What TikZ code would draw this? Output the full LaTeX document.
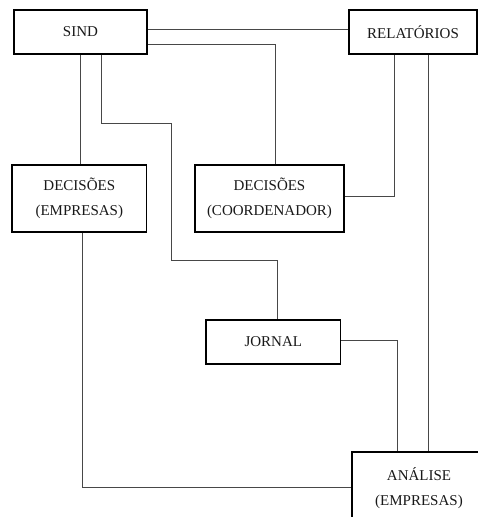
\documentclass[tikz,border=0pt]{standalone}
\usepackage{fontspec}
\setmainfont{Liberation Serif}
\begin{document}
\begin{tikzpicture}[x=1pt,y=-1pt,
  box/.style={draw=black,line width=1.6pt,fill=white,inner sep=0pt,align=center,
    font=\fontsize{15}{25}\selectfont,text=black!90},
  conn/.style={draw=black!72,line width=0.9pt}]
\useasboundingbox (0,0) rectangle (478,517);
\clip (0,0) rectangle (478,517);
\node[box,minimum width=133pt,minimum height=44pt] (sind) at (80.5,32) {SIND};
\node[box,minimum width=128pt,minimum height=44pt] (rel) at (413,32) {RELATÓRIOS};
\node[box,minimum width=134.7pt,minimum height=67pt] (dece) at (79.3,198.7) {DECISÕES\\(EMPRESAS)};
\node[box,minimum width=149pt,minimum height=67pt] (decc) at (269.5,198.7) {DECISÕES\\(COORDENADOR)};
\node[box,minimum width=134.7pt,minimum height=44pt] (jor) at (273.3,342) {JORNAL};
\node[box,minimum width=134pt,minimum height=72pt] (ana) at (419,488) {ANÁLISE\\(EMPRESAS)};
\coordinate (b1) at (171,123);
\coordinate (b2) at (171,260.7);
\draw[conn] ([yshift=2.5pt]sind.east) -- ([yshift=2.5pt]rel.west);
\draw[conn] ([yshift=-12pt]sind.east) -| ([xshift=5.5pt]decc.north);
\draw[conn] (sind.south) -- (sind.south |- dece.north);
\draw[conn] ([xshift=21pt]sind.south) |- (b1) -- (b2) -| ([xshift=3.7pt]jor.north);
\draw[conn] ([yshift=2pt]decc.east) -| ([xshift=-19pt]rel.south);
\draw[conn] ([xshift=15pt]rel.south) -- ([xshift=15pt]rel.south |- ana.north);
\draw[conn] ([xshift=3.4pt]dece.south) |- ([yshift=1pt]ana.west);
\draw[conn] ([yshift=2pt]jor.east) -| ([xshift=-21.3pt]ana.north);
\end{tikzpicture}
\end{document}
